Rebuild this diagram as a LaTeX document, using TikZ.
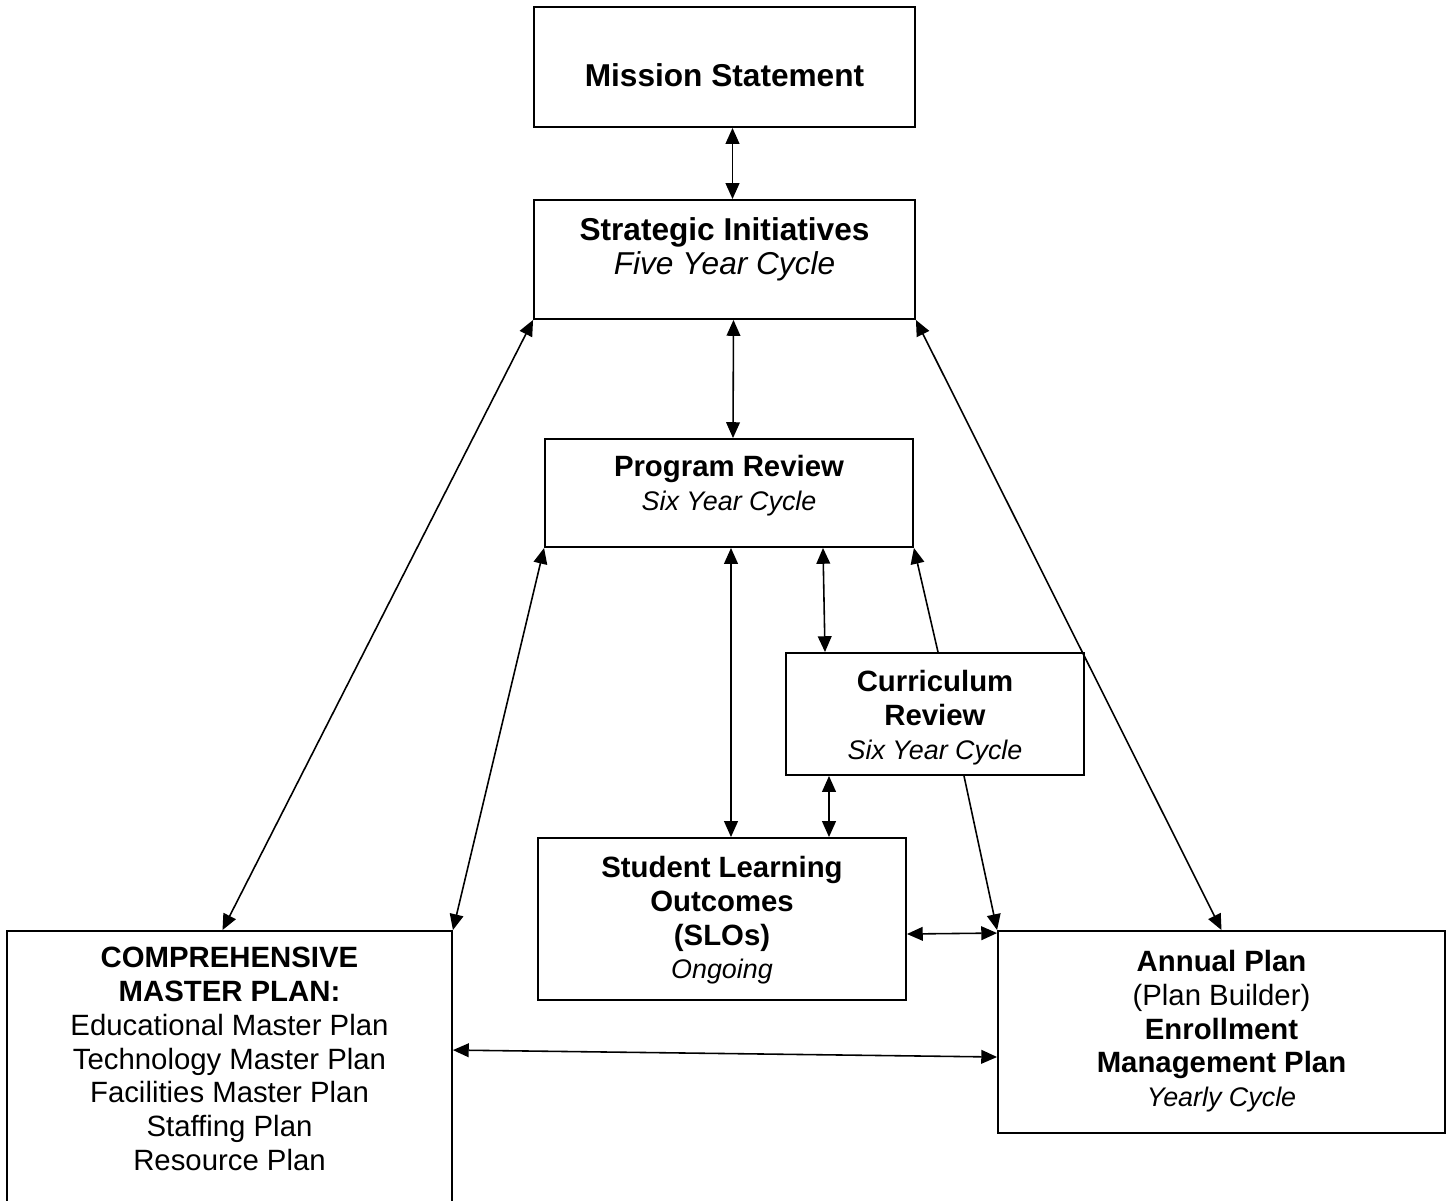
\documentclass[tikz,border=0pt]{standalone}
\usepackage{fontspec}
\setmainfont{Liberation Sans}
\usetikzlibrary{arrows.meta,calc}

% italic cycle lines, set a little smaller
\newcommand{\cyc}[1]{{\fontsize{15.3}{19.2}\selectfont\itshape #1}}

\begin{document}
\begin{tikzpicture}[
x=0.02cm, y=-0.02cm,
box/.style={rectangle, draw, line width=1.1pt, inner sep=0pt},
boxtext/.style={anchor=north, align=center, inner sep=0pt, font=\fontsize{16.7}{19.2}\selectfont},
bigtext/.style={boxtext, font=\fontsize{18}{19.2}\selectfont},
link/.style={line width=0.9pt, {Triangle[length=9pt,width=7.8pt]}-{Triangle[length=9pt,width=7.8pt]}},
oneway/.style={line width=0.9pt, -{Triangle[length=9pt,width=7.8pt]}},
]
\useasboundingbox[fill=white] (0,0) rectangle (1450,1200);

% Boxes
\node[box, minimum width=7.62cm, minimum height=2.4cm] (ms) at (724.5,67) {};
\node[box, minimum width=7.62cm, minimum height=2.38cm] (si) at (724.5,259.5) {};
\node[box, minimum width=7.36cm, minimum height=2.16cm] (pr) at (729,493) {};
\node[box, minimum width=5.96cm, minimum height=2.44cm] (cr) at (935,714) {};
\node[box, minimum width=7.36cm, minimum height=3.24cm] (slo) at (722,919) {};
\node[box, minimum width=8.9cm, minimum height=5.98cm] (cmp) at (229.5,1080.5) {};
\node[box, minimum width=8.94cm, minimum height=4.04cm] (ap) at (1221.5,1032) {};

% Texts
\node[bigtext] (ms-text) at ($(ms.north)+(0,57)$) {\textbf{Mission Statement}};
\node[bigtext] (si-text) at ($(si.north)+(0,18)$) {\textbf{Strategic Initiatives}\\\textit{Five Year Cycle}};
\node[boxtext] (pr-text) at ($(pr.north)+(0,17)$) {\textbf{Program Review}\\\cyc{Six Year Cycle}};
\node[boxtext] (cr-text) at ($(cr.north)+(0,18)$) {\textbf{Curriculum}\\\textbf{Review}\\\cyc{Six Year Cycle}};
\node[boxtext] (slo-text) at ($(slo.north)+(0,19)$) {\textbf{Student Learning}\\\textbf{Outcomes}\\\textbf{(SLOs)}\\\cyc{Ongoing}};
\node[boxtext] (cmp-text) at ($(cmp.north)+(0,17)$) {\textbf{COMPREHENSIVE}\\\textbf{MASTER PLAN:}\\Educational Master Plan\\Technology Master Plan\\Facilities Master Plan\\Staffing Plan\\Resource Plan};
\node[boxtext] (ap-text) at ($(ap.north)+(0,20)$) {\textbf{Annual Plan}\\(Plan Builder)\\\textbf{Enrollment}\\\textbf{Management Plan}\\\cyc{Yearly Cycle}};

% Connectors
\draw[link] ($(ms.south)+(8,0)$) -- ($(si.north)+(8,0)$);
\draw[link] ($(si.south)+(9,0)$) -- ($(pr.north)+(4,0)$);
\draw[link] (si.south west) -- ($(cmp.north)+(-7,0)$);
\draw[link] (pr.south west) -- (cmp.north east);
\draw[link] (si.south east) -- (ap.north);
\draw[link] ($(pr.south)+(2,0)$) -- ($(slo.north)+(9,0)$);
\draw[link] ($(pr.south)+(94,0)$) -- ($(cr.north)+(-110,0)$);
\draw[oneway] ($(cr.north)+(3,0)$) -- (pr.south east);
\draw[link] ($(cr.south)+(-106,0)$) -- ($(slo.north)+(107,0)$);
\draw[oneway] ($(cr.south)+(29,0)$) -- (ap.north west);
\draw[link] ($(slo.east)+(0,15)$) -- ($(ap.north west)+(0,3)$);
\draw[link] ($(cmp.north east)+(0,120)$) -- ($(ap.west)+(0,25)$);

\end{tikzpicture}
\end{document}
